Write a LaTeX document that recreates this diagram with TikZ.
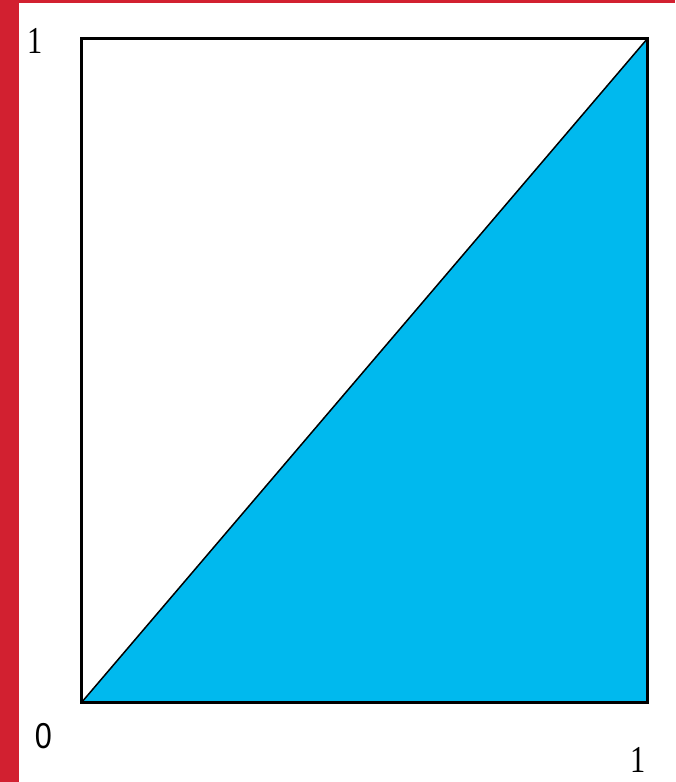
\documentclass[tikz,border=0pt]{standalone}
\usepackage{fontspec}
\setmainfont{Liberation Serif}
\newfontfamily\zerofont{Liberation Sans}
\definecolor{barred}{RGB}{210,32,48}
\definecolor{fillblue}{RGB}{0,185,238}
\begin{document}
\begin{tikzpicture}[x=1pt,y=-1pt,
  lbl/.style={inner sep=0pt,font=\fontsize{38}{38}\selectfont,xscale=0.8},
  zlbl/.style={inner sep=0pt,font=\zerofont\fontsize{36}{36}\selectfont,xscale=0.85},
  frame/.style={draw=black,line width=3pt}]
\useasboundingbox (0,0) rectangle (675,782);
\fill[white] (0,0) rectangle (675,782);
\fill[barred] (0,0) rectangle (19,782);
\fill[barred] (19,0) rectangle (675,3);
\coordinate (bl) at (81.5,702.5);
\coordinate (br) at (647.5,702.5);
\coordinate (tr) at (647.5,38.5);
\coordinate (tl) at (81.5,38.5);
\fill[fillblue] (bl) -- (br) -- (tr) -- cycle;
\draw[black,line width=1.5pt] (bl) -- (tr);
\draw[frame] (bl) rectangle (tr);
\node[lbl,anchor=base] (one) at (35,53) {1};
\node[zlbl,anchor=base] (zero) at (43.5,748) {0};
\node[lbl,anchor=base] (onex) at (638.5,772) {1};
\end{tikzpicture}
\end{document}
